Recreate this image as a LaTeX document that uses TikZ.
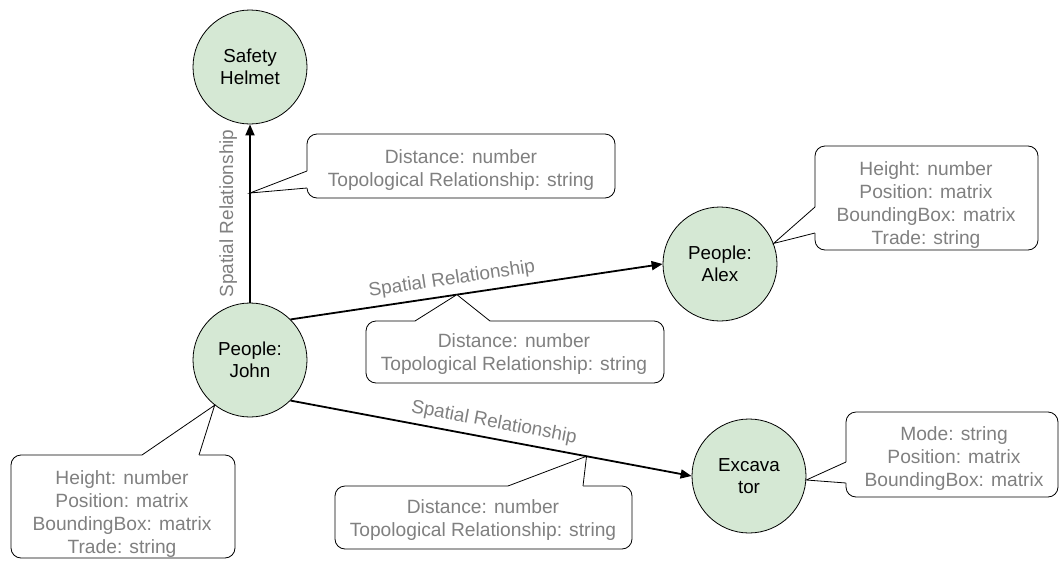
\documentclass[tikz,border=0pt]{standalone}
\usepackage{fontspec}
\setmainfont{Liberation Sans}
\usetikzlibrary{arrows.meta}
\definecolor{nodefill}{HTML}{D5E8D4}
\definecolor{labelgray}{HTML}{808080}
\begin{document}
\begin{tikzpicture}[x=1pt,y=-1pt,
  ent/.style={circle, draw, line width=0.8pt, fill=nodefill, minimum size=114pt, inner sep=0pt, align=center, font=\fontsize{18.8}{22}\selectfont},
  edge/.style={line width=1.8pt, -{Triangle[length=11pt,width=9pt]}},
  rel/.style={sloped, inner sep=1pt, text=labelgray, font=\fontsize{19}{22}\selectfont},
  cbox/.style={draw, line width=0.8pt, rounded corners=10pt, fill=white},
  ctext/.style={align=center, text=labelgray, inner sep=0pt, font=\fontsize{19.2}{23}\selectfont},
  ptr/.style={line width=0.8pt, line join=miter}
]
\useasboundingbox (0,0) rectangle (1061,560);

% entities
\node[ent] (helmet) at (250,67) {Safety\\Helmet};
\node[ent] (john) at (250,360) {People:\\John};
\node[ent] (alex) at (720,264) {People:\\Alex};
\node[ent] (exc) at (749,476) {Excava\\tor};

% relationships
\draw[edge] (john.north) -- node[rel, above=11pt, pos=0.5]{Spatial Relationship} coordinate[pos=0.615] (t1) (helmet.south);
\draw[edge] (john.north east) -- node[rel, above=5pt, pos=0.44]{Spatial Relationship} coordinate[pos=0.447] (t2) (alex.west);
\draw[edge] (john.south east) -- node[rel, above=5pt, pos=0.5]{Spatial Relationship} coordinate[pos=0.738] (t3) (exc.west);

% callout: helmet relationship (pointer on left edge)
\draw[cbox] (307,134) rectangle (615,198);
\fill[white] (309,171) -- (307,171) -- (t1) -- (307,188) -- (309,188) -- cycle;
\draw[ptr] (307,171) -- (t1) -- (307,188);
\node[ctext] (c1) at (461,170) {Distance: number\\Topological Relationship: string};

% callout: alex relationship (pointer on top edge)
\draw[cbox] (366,321) rectangle (664,383);
\fill[white] (415,323) -- (415,321) -- (t2) -- (490,321) -- (490,323) -- cycle;
\draw[ptr] (415,321) -- (t2) -- (490,321);
\node[ctext] (c2) at (514,354) {Distance: number\\Topological Relationship: string};

% callout: excavator relationship (pointer on top edge)
\draw[cbox] (335,486) rectangle (632,549);
\fill[white] (508,488) -- (508,486) -- (t3) -- (583,486) -- (583,488) -- cycle;
\draw[ptr] (508,486) -- (t3) -- (583,486);
\node[ctext] (c3) at (483,520) {Distance: number\\Topological Relationship: string};

% callout: john attributes (pointer on top edge)
\draw[cbox] (11,455) rectangle (235,558);
\fill[white] (142,457) -- (142,455) -- (john.232) -- (199,455) -- (199,457) -- cycle;
\draw[ptr] (142,455) -- (john.232) -- (199,455);
\node[ctext] (c4) at (122,514) {Height: number\\Position: matrix\\BoundingBox: matrix\\Trade: string};

% callout: alex attributes (pointer on left edge)
\draw[cbox] (815,146) rectangle (1038,250);
\fill[white] (817,207) -- (815,207) -- (alex.21) -- (815,233) -- (817,233) -- cycle;
\draw[ptr] (815,207) -- (alex.21) -- (815,233);
\node[ctext] (c5) at (926,205) {Height: number\\Position: matrix\\BoundingBox: matrix\\Trade: string};

% callout: excavator attributes (pointer on left edge)
\draw[cbox] (846,412) rectangle (1058,497);
\fill[white] (848,462) -- (846,462) -- (exc.-4) -- (846,483) -- (848,483) -- cycle;
\draw[ptr] (846,462) -- (exc.-4) -- (846,483);
\node[ctext] (c6) at (954,459) {Mode: string\\Position: matrix\\BoundingBox: matrix};
\end{tikzpicture}
\end{document}
